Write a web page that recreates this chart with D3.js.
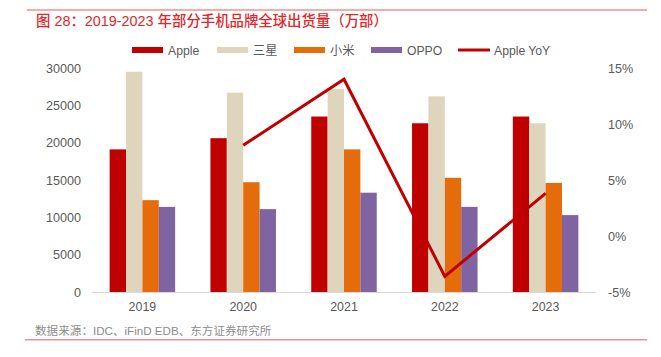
<!DOCTYPE html>
<html><head><meta charset="utf-8">
<script src="https://cdn.jsdelivr.net/npm/d3@7/dist/d3.min.js"></script>
<style>
html,body{margin:0;padding:0;background:#fff;}
svg{display:block;font-family:"Liberation Sans",Arial,"Noto Sans CJK SC",sans-serif;}
</style></head>
<body><svg id="c" width="661" height="357"></svg>
<script>
const years = ["2019","2020","2021","2022","2023"];
const seriesNames = ["Apple","三星","小米","OPPO"];
const apple   = [19100, 20600, 23500, 22600, 23500];
const samsung = [29500, 26700, 27200, 26200, 22600];
const xiaomi  = [12300, 14700, 19100, 15300, 14600];
const oppo    = [11400, 11100, 13300, 11400, 10300];
const yoyYears = ["2020","2021","2022","2023"];
const appleYoY = [8.1, 14.0, -3.6, 3.8];
const leftTicks = [0,5000,10000,15000,20000,25000,30000];
const rightTicks = [-5,0,5,10,15];
const colors = ["#C00000","#DFD5BC","#E46C0A","#8064A2"];
const lineColor = "#C00000";

const svg = d3.select("#c");
const m = {l:92, r:596, t:68, b:292};
const x = d3.scaleBand().domain(years).range([m.l, m.r]).paddingInner(0.35).paddingOuter(0.175);
const x1 = d3.scaleBand().domain(seriesNames).range([0, x.bandwidth()]);
const y = d3.scaleLinear().domain([0,30000]).range([m.b, m.t]);
const y2 = d3.scaleLinear().domain([-5,15]).range([m.b, m.t]);
const values = [apple, samsung, xiaomi, oppo];
const latinCjk = "'Liberation Sans',Arial,'Noto Sans CJK SC',sans-serif";

// frame lines
svg.append("line").attr("x1",27).attr("x2",647).attr("y1",10).attr("y2",10).attr("stroke","#F4908C").attr("stroke-width",1.5);
svg.append("line").attr("x1",25).attr("x2",647).attr("y1",339.7).attr("y2",339.7).attr("stroke","#F4908C").attr("stroke-width",1.5);

// title
svg.append("text").attr("x",36).attr("y",25.5).attr("fill","#E3262A").attr("font-size",14.4)
  .attr("font-family",latinCjk).attr("font-weight",500)
  .text("图 28：2019-2023 年部分手机品牌全球出货量（万部）");

// source
svg.append("text").attr("x",35).attr("y",335).attr("fill","#8C8C8C").attr("font-size",11.6)
  .attr("font-family",latinCjk)
  .text("数据来源：IDC、iFinD EDB、东方证券研究所");

// bars
seriesNames.forEach((s,i)=>{
  svg.append("g").selectAll("rect").data(years).join("rect")
    .attr("x", d=>x(d)+x1(s))
    .attr("y", (d,j)=>y(values[i][j]))
    .attr("width", x1.bandwidth())
    .attr("height", (d,j)=>m.b - y(values[i][j]))
    .attr("fill", colors[i]);
});

// x axis line
svg.append("line").attr("x1",m.l).attr("x2",m.r).attr("y1",m.b+0.5).attr("y2",m.b+0.5).attr("stroke","#D9D9D9").attr("stroke-width",1);

// left axis
const la = svg.append("g").attr("transform",`translate(${m.l},0)`)
  .call(d3.axisLeft(y).tickValues(leftTicks).tickSize(0).tickPadding(11).tickFormat(d3.format("d")));
la.select(".domain").remove();
la.attr("font-family",latinCjk);
la.selectAll("text").attr("fill","#595959").attr("font-size",12.6);

// right axis
const ra = svg.append("g").attr("transform",`translate(${m.r},0)`)
  .call(d3.axisRight(y2).tickValues(rightTicks).tickSize(0).tickPadding(12).tickFormat(d=>d+"%"));
ra.select(".domain").remove();
ra.attr("font-family",latinCjk);
ra.selectAll("text").attr("fill","#595959").attr("font-size",12.6);

// bottom axis
const ba = svg.append("g").attr("transform",`translate(0,${m.b})`)
  .call(d3.axisBottom(x).tickSize(0).tickPadding(10));
ba.select(".domain").remove();
ba.attr("font-family",latinCjk);
ba.selectAll("text").attr("fill","#595959").attr("font-size",12.4);

// YoY line
const line = d3.line().x(d=>x(d[0])+x.bandwidth()/2).y(d=>y2(d[1]));
svg.append("path").datum(yoyYears.map((d,i)=>[d,appleYoY[i]]))
  .attr("d",line).attr("fill","none").attr("stroke",lineColor).attr("stroke-width",3).attr("stroke-linejoin","miter");

// legend
const legendItems = [
  {name:"Apple", type:"rect", color:colors[0], x:132},
  {name:"三星", type:"rect", color:colors[1], x:217},
  {name:"小米", type:"rect", color:colors[2], x:294},
  {name:"OPPO", type:"rect", color:colors[3], x:371},
  {name:"Apple YoY", type:"line", color:lineColor, x:458}
];
const lg = svg.append("g");
legendItems.forEach(it=>{
  if(it.type==="rect"){
    lg.append("rect").attr("x",it.x).attr("y",47).attr("width",31).attr("height",6).attr("fill",it.color);
  } else {
    lg.append("line").attr("x1",it.x).attr("x2",it.x+32).attr("y1",50).attr("y2",50).attr("stroke",it.color).attr("stroke-width",3);
  }
  lg.append("text").attr("x",it.x+36).attr("y",54.5).attr("fill","#595959").attr("font-size",12.2)
    .attr("font-family",latinCjk).text(it.name);
});
</script></body></html>
